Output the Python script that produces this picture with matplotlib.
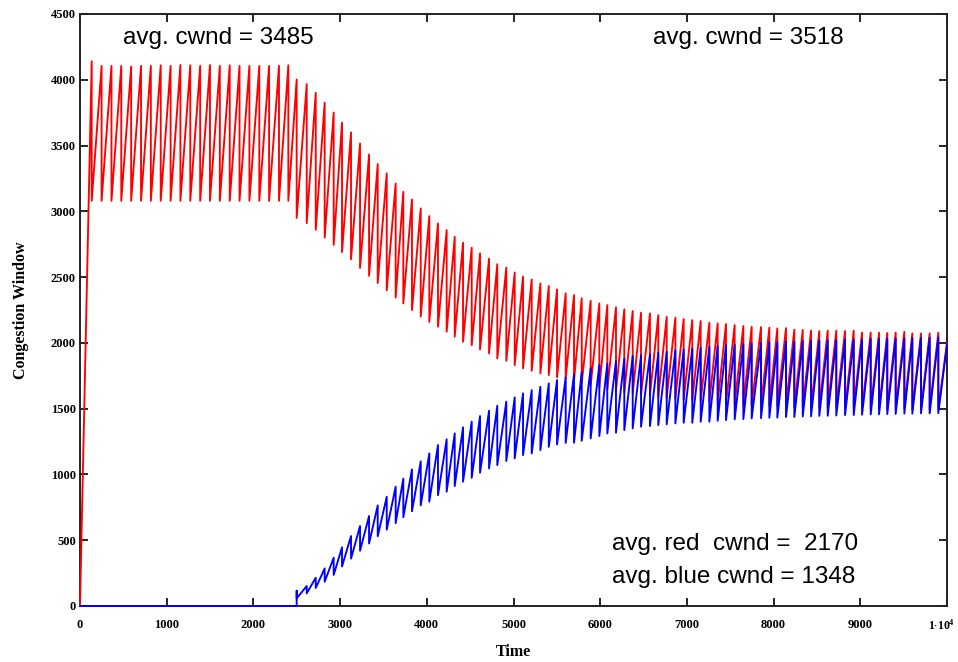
import numpy as np
import matplotlib
matplotlib.use("Agg")
import matplotlib.pyplot as plt
import matplotlib.transforms as mtransforms

# loss events before the blue flow starts (red only)
flat_drop_t = [135, 249, 363, 476, 590, 704, 817, 931, 1045, 1158, 1272,
               1386, 1499, 1613, 1727, 1840, 1954, 2068, 2181, 2295, 2403]
flat_peak = [4140, 4105, 4105, 4105, 4100, 4105, 4105, 4110, 4105, 4112, 4110,
             4105, 4112, 4105, 4110, 4105, 4105, 4105, 4105, 4105, 4110]
flat_trough = [3080] * 21

# synchronized loss events once both flows share the link
shared_drop_t = [2499, 2615, 2719, 2822, 2926, 3022, 3126, 3230, 3334, 3434,
                 3538, 3641, 3729, 3829, 3930, 4029, 4129, 4229, 4322, 4418,
                 4518, 4614, 4718, 4813, 4917, 5014, 5110, 5210, 5310, 5407,
                 5502, 5602, 5698, 5787, 5890, 5990, 6082, 6182, 6278, 6375,
                 6471, 6574, 6670, 6767, 6867, 6963, 7062, 7159, 7259, 7355,
                 7451, 7551, 7651, 7747, 7855, 7951, 8043, 8143, 8239, 8336,
                 8432, 8527, 8624, 8723, 8824, 8924, 9020, 9120, 9216, 9311,
                 9408, 9508, 9600, 9700, 9800, 9900]

red_peak = [4002, 3967, 3901, 3825, 3751, 3675, 3600, 3516, 3432, 3359,
            3288, 3212, 3148, 3090, 3022, 2964, 2908, 2857, 2806, 2762,
            2723, 2680, 2640, 2598, 2572, 2535, 2505, 2482, 2452, 2432,
            2407, 2376, 2363, 2338, 2320, 2300, 2287, 2270, 2255, 2242,
            2229, 2224, 2211, 2198, 2191, 2181, 2173, 2166, 2153, 2148,
            2143, 2135, 2128, 2122, 2120, 2115, 2110, 2112, 2100, 2098,
            2093, 2090, 2093, 2093, 2090, 2093, 2078, 2078, 2078, 2075,
            2078, 2085, 2072, 2072, 2072, 2078]
red_trough = [2950, 2910, 2860, 2800, 2745, 2690, 2635, 2570, 2510, 2455,
              2400, 2345, 2300, 2250, 2200, 2160, 2123, 2085, 2047, 2009,
              1983, 1950, 1920, 1882, 1864, 1831, 1806, 1788, 1768, 1755,
              1738, 1730, 1715, 1695, 1680, 1660, 1650, 1635, 1625, 1615,
              1605, 1600, 1590, 1580, 1575, 1570, 1563, 1558, 1550, 1545,
              1542, 1536, 1530, 1527, 1525, 1522, 1518, 1520, 1512, 1510,
              1507, 1505, 1507, 1507, 1505, 1507, 1496, 1496, 1496, 1494,
              1496, 1500, 1492, 1492, 1492, 1496]

blue_peak = [116, 152, 215, 286, 367, 446, 532, 608, 684, 765,
             831, 907, 968, 1039, 1100, 1160, 1223, 1267, 1312, 1358,
             1401, 1444, 1484, 1522, 1553, 1586, 1616, 1641, 1666, 1692,
             1717, 1738, 1763, 1780, 1806, 1831, 1844, 1862, 1882, 1900,
             1907, 1915, 1925, 1933, 1945, 1950, 1958, 1963, 1970, 1976,
             1983, 1986, 1991, 1996, 2000, 2004, 2005, 2009, 2010, 2014,
             2015, 2018, 2020, 2021, 2025, 2026, 2027, 2031, 2030, 2034,
             2034, 2037, 2036, 2039, 2040, 2042]
blue_trough = [58, 96, 137, 185, 236, 300, 360, 420, 475, 530,
               580, 630, 675, 720, 765, 793, 843, 869, 912, 945,
               975, 1013, 1046, 1071, 1102, 1122, 1147, 1160, 1185, 1210,
               1228, 1240, 1241, 1256, 1274, 1292, 1312, 1317, 1337, 1350,
               1363, 1368, 1375, 1381, 1388, 1393, 1393, 1401, 1401, 1408,
               1413, 1419, 1421, 1426, 1428, 1431, 1432, 1436, 1437, 1441,
               1442, 1445, 1446, 1448, 1451, 1452, 1454, 1456, 1457, 1459,
               1460, 1462, 1462, 1464, 1464, 1466]

t_end = 10000
red_end = 2000
blue_end = 1990

x_ticks = [0, 1000, 2000, 3000, 4000, 5000, 6000, 7000, 8000, 9000, 10000]
x_ticklabels = ['0', '1000', '2000', '3000', '4000', '5000', '6000', '7000',
                '8000', '9000', r'$\mathbf{1{\cdot}10^{4}}$']
y_ticks = [0, 500, 1000, 1500, 2000, 2500, 3000, 3500, 4000, 4500]

notes = [(496, 4275, 'avg. cwnd = 3485'),
         (6610, 4275, 'avg. cwnd = 3518'),
         (6140, 428, 'avg. red  cwnd =  2170'),
         (6140, 178, 'avg. blue cwnd = 1348')]


def sawtooth(drops, peaks, troughs, start, end):
    # vertical drop at each loss, linear growth up to the next peak
    t, v = [start[0]], [start[1]]
    for d, p, q in zip(drops, peaks, troughs):
        t += [d, d]
        v += [p, q]
    t.append(end[0])
    v.append(end[1])
    return np.array(t), np.array(v)


red_t, red_v = sawtooth(flat_drop_t + shared_drop_t, flat_peak + red_peak,
                        flat_trough + red_trough, (0, 0), (t_end, red_end))
blue_t, blue_v = sawtooth(shared_drop_t, blue_peak, blue_trough,
                          (0, 0), (t_end, blue_end))
# blue sits at zero until it joins at t = 2499
blue_t = np.insert(blue_t, 1, shared_drop_t[0])
blue_v = np.insert(blue_v, 1, 0)

plt.rcParams['mathtext.fontset'] = 'custom'
plt.rcParams['mathtext.bf'] = 'Liberation Serif:bold'
plt.rcParams['mathtext.rm'] = 'Liberation Serif:bold'

fig = plt.figure(figsize=(9.58, 6.62), dpi=100)
ax = fig.add_axes([80 / 958, 1 - 606 / 662, 867 / 958, 592 / 662])

ax.plot(red_t, red_v, color='#ff0000', lw=1.35, zorder=3, clip_on=False)
ax.plot(blue_t, blue_v, color='#0000ff', lw=1.35, zorder=3.1, clip_on=False)

ax.set_xlim(0, 10000)
ax.set_ylim(0, 4500)
ax.set_xticks(x_ticks)
ax.set_xticklabels(x_ticklabels)
ax.set_yticks(y_ticks)
ax.tick_params(direction='in', length=6, width=1.2, top=True, right=True,
               labelsize=9, colors='black')
ax.tick_params(axis='x', pad=9)
ax.tick_params(axis='y', pad=3)
for lab in ax.get_xticklabels() + ax.get_yticklabels():
    lab.set_fontfamily('Liberation Serif')
    lab.set_fontweight('bold')
last = ax.get_xticklabels()[-1]
last.set_fontsize(8.5)
# nudge the last label so it stays inside the canvas
last.set_transform(last.get_transform() +
                   mtransforms.ScaledTranslation(-4 / 72, 0, fig.dpi_scale_trans))
for sp in ax.spines.values():
    sp.set_linewidth(1.4)
    sp.set_color('#222222')

ax.set_xlabel('Time', family='Liberation Serif', fontweight='bold',
              fontsize=11.5, labelpad=8)
ax.set_ylabel('Congestion Window', family='Liberation Serif',
              fontweight='bold', fontsize=11.5, labelpad=16)

for x, y, s in notes:
    ax.text(x, y, s, family='Liberation Sans', fontsize=17.5,
            ha='left', va='baseline', color='black')

fig.savefig('out.png', dpi=100)
